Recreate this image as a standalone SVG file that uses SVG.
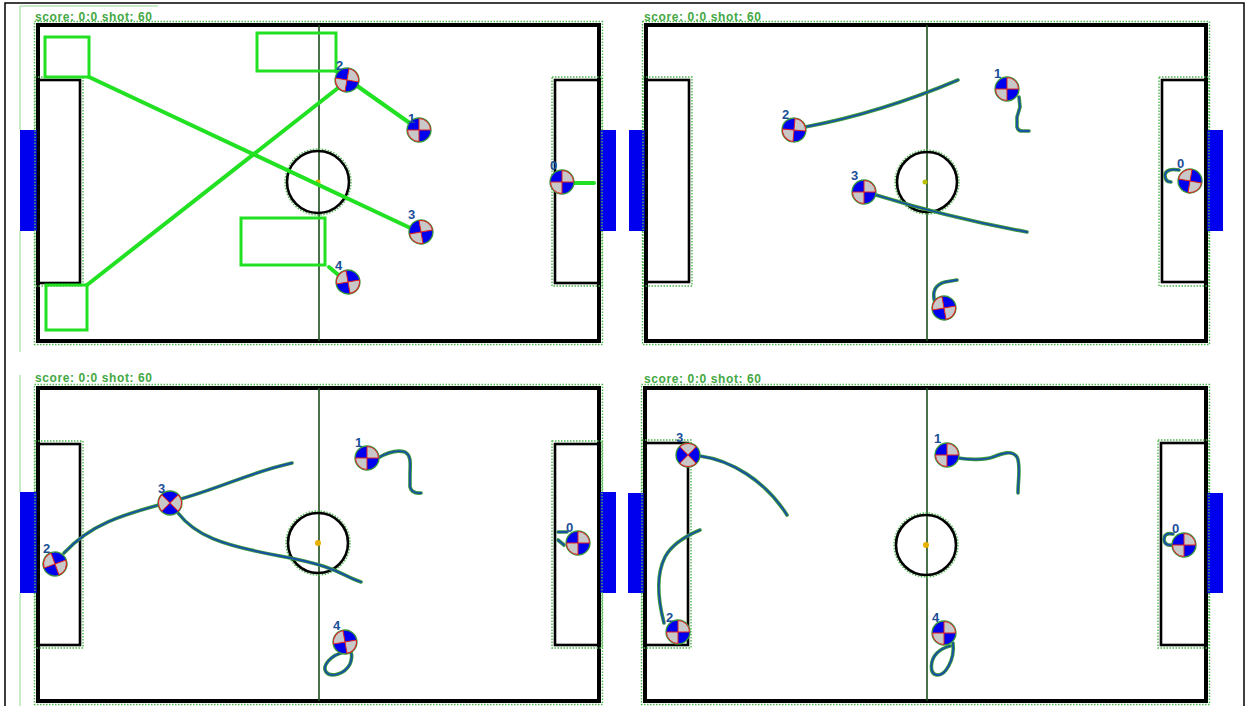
<svg xmlns="http://www.w3.org/2000/svg" xmlns:xlink="http://www.w3.org/1999/xlink" width="1246" height="706" viewBox="0 0 1246 706">
<style>
.field{fill:#fff;stroke:#000;stroke-width:4}
.halo{fill:none;stroke:#4fb84f;stroke-width:1.4;stroke-dasharray:1.5 1.5}
.pbox{fill:none;stroke:#000;stroke-width:2.6}
.mid{stroke:#1d4d1d;stroke-width:1.6}
.circ{fill:none;stroke:#000;stroke-width:2.6}
.goal{fill:#0000ee}
.dot{fill:#e8b000}
.frame{fill:none;stroke:#8fd88f;stroke-width:1}
.score{font-family:"Liberation Sans",Arial,sans-serif;font-size:12px;font-weight:bold;fill:#44a844}
.num{font-family:"Liberation Sans",Arial,sans-serif;font-size:13px;font-weight:bold;fill:#1a4f98}
.gline{stroke:#22e022;stroke-width:4;fill:none;stroke-linecap:round}
.grect{fill:none;stroke:#22e022;stroke-width:3}
.trajo{stroke:#3a9a3a;stroke-width:3.6;fill:none;stroke-linecap:round;stroke-linejoin:round}
.traj{stroke:#1a4fa8;stroke-width:1.8;fill:none;stroke-linecap:round;stroke-linejoin:round}
</style>
<defs>
<g id="bot">
<circle r="12" fill="#0000ee" stroke="#3a9a3a" stroke-width="1.3"/>
<path d="M0,0 H11.5 A11.5,11.5 0 0,0 0,-11.5 Z M0,0 H-11.5 A11.5,11.5 0 0,0 0,11.5 Z" fill="#c8c8c8" stroke="#e02020" stroke-width="1"/>
</g>
</defs>
<rect width="1246" height="706" fill="#fff"/>
<rect x="5" y="3" width="1239" height="720" fill="none" stroke="#000" stroke-width="1.5"/>

<!-- Panel 1 -->
<g id="panel1">
<path class="frame" d="M20,130 V6 H158 M20,231 V352"/>
<text class="score" x="35" y="21" textLength="117">score: 0:0 shot: 60</text>
<rect class="halo" x="34.5" y="21.5" width="568" height="323"/>
<rect class="field" x="38" y="25" width="561" height="316"/>
<rect class="goal" x="20" y="130" width="18" height="101"/>
<rect class="goal" x="599" y="130" width="17" height="101"/>
<rect class="halo" x="35" y="77" width="48" height="209"/>
<rect class="pbox" x="38" y="80" width="42" height="203"/>
<rect class="halo" x="552" y="77" width="50" height="209"/>
<rect class="pbox" x="555" y="80" width="44" height="203"/>
<line class="mid" x1="319" y1="25" x2="319" y2="341"/>
<circle class="halo" cx="318" cy="182" r="33"/>
<circle class="circ" cx="318" cy="182" r="31"/>
<circle class="dot" cx="318" cy="182" r="2.5"/>
</g>
<g id="connectors1">
<rect class="grect" x="45" y="37" width="44" height="40"/>
<rect class="grect" x="257" y="33" width="79" height="38"/>
<rect class="grect" x="241" y="218" width="84" height="47"/>
<rect class="grect" x="46" y="285" width="41" height="45"/>
<path class="gline" d="M89,77 L421,233"/>
<path class="gline" d="M87,285 L352,77"/>
<path class="gline" d="M336,71 L421,131"/>
<path class="gline" d="M329,267 L349,284"/>
<path class="gline" d="M562,183 L594,183"/>
</g>
<g id="p1-players">
<g id="p1-r2"><use xlink:href="#bot" transform="translate(347,80) rotate(10)"/><text class="num" x="336" y="70">2</text></g>
<g id="p1-r1"><use xlink:href="#bot" transform="translate(419,130) rotate(0)"/><text class="num" x="408" y="123">1</text></g>
<g id="p1-r0"><use xlink:href="#bot" transform="translate(562,182) rotate(0)"/><text class="num" x="550" y="170">0</text></g>
<g id="p1-r3"><use xlink:href="#bot" transform="translate(421,232) rotate(-10)"/><text class="num" x="408" y="219">3</text></g>
<g id="p1-r4"><use xlink:href="#bot" transform="translate(348,282) rotate(80)"/><text class="num" x="335" y="270">4</text></g>
</g>

<!-- Panel 2 -->
<g id="panel2">
<text class="score" x="644" y="21" textLength="117">score: 0:0 shot: 60</text>
<rect class="halo" x="642.5" y="21.5" width="567" height="323"/>
<rect class="field" x="646" y="25" width="560" height="316"/>
<rect class="goal" x="629" y="130" width="17" height="101"/>
<rect class="goal" x="1206" y="130" width="17" height="101"/>
<rect class="halo" x="643" y="77" width="49" height="209"/>
<rect class="pbox" x="646" y="80" width="43" height="202"/>
<rect class="halo" x="1159" y="77" width="50" height="209"/>
<rect class="pbox" x="1162" y="80" width="44" height="202"/>
<line class="mid" x1="927" y1="25" x2="927" y2="341"/>
<circle class="halo" cx="927" cy="182" r="32"/>
<circle class="circ" cx="927" cy="182" r="30"/>
<circle cx="925" cy="182" r="2.5" fill="#b8c000"/>
</g>
<g id="connectors2">
<g class="trajo">
<path d="M805,127 Q880,113 958,80"/>
<path d="M1019,97 L1020,107 L1017,117 L1017,127 Q1018,131 1022,131 L1029,131"/>
<path d="M1179,170 Q1166,168 1165,175 Q1165,182 1171,182"/>
<path d="M876,195 Q950,218 1027,232"/>
<path d="M935,303 Q930,286 945,282 L957,280"/>
</g>
<g class="traj">
<path d="M805,127 Q880,113 958,80"/>
<path d="M1019,97 L1020,107 L1017,117 L1017,127 Q1018,131 1022,131 L1029,131"/>
<path d="M1179,170 Q1166,168 1165,175 Q1165,182 1171,182"/>
<path d="M876,195 Q950,218 1027,232"/>
<path d="M935,303 Q930,286 945,282 L957,280"/>
</g>
</g>
<g id="p2-players">
<g id="p2-r2"><use xlink:href="#bot" transform="translate(794,130) rotate(5)"/><text class="num" x="782" y="119">2</text></g>
<g id="p2-r1"><use xlink:href="#bot" transform="translate(1007,89) rotate(0)"/><text class="num" x="994" y="78">1</text></g>
<g id="p2-r0"><use xlink:href="#bot" transform="translate(1190,181) rotate(-80)"/><text class="num" x="1177" y="168">0</text></g>
<g id="p2-r3"><use xlink:href="#bot" transform="translate(864,192) rotate(0)"/><text class="num" x="851" y="180">3</text></g>
<g id="p2-r4"><use xlink:href="#bot" transform="translate(944,308) rotate(80)"/></g>
</g>

<!-- Panel 3 -->
<g id="panel3">
<path class="frame" d="M20,375 V492 M20,593 V706"/>
<text class="score" x="35" y="382" textLength="117">score: 0:0 shot: 60</text>
<rect class="halo" x="34.5" y="384.5" width="568" height="320"/>
<rect class="field" x="38" y="388" width="561" height="313"/>
<rect class="goal" x="20" y="492" width="18" height="101"/>
<rect class="goal" x="599" y="492" width="17" height="101"/>
<rect class="halo" x="35" y="441" width="48" height="207"/>
<rect class="pbox" x="38" y="444" width="42" height="201"/>
<rect class="halo" x="552" y="441" width="50" height="207"/>
<rect class="pbox" x="555" y="444" width="44" height="201"/>
<line class="mid" x1="319" y1="388" x2="319" y2="701"/>
<circle class="halo" cx="318" cy="543" r="32"/>
<circle class="circ" cx="318" cy="543" r="30"/>
<circle class="dot" cx="318" cy="543" r="3"/>
</g>
<g id="connectors3">
<g class="trajo">
<path d="M64,553 C90,525 120,515 170,502 S250,472 292,463"/>
<path d="M178,513 C195,535 220,545 280,556 S340,575 361,582"/>
<path d="M378,458 C388,452 398,450 405,452 C412,456 410,465 410,475 L410,487 Q412,494 421,493"/>
<path d="M567,532 L558,532 M558,540 L564,545"/>
<path d="M345,652 C330,655 322,666 326,672 C331,678 345,674 350,664 C352,659 352,655 351,652"/>
</g>
<g class="traj">
<path d="M64,553 C90,525 120,515 170,502 S250,472 292,463"/>
<path d="M178,513 C195,535 220,545 280,556 S340,575 361,582"/>
<path d="M378,458 C388,452 398,450 405,452 C412,456 410,465 410,475 L410,487 Q412,494 421,493"/>
<path d="M567,532 L558,532 M558,540 L564,545"/>
<path d="M345,652 C330,655 322,666 326,672 C331,678 345,674 350,664 C352,659 352,655 351,652"/>
</g>
</g>
<g id="p3-players">
<g id="p3-r2"><use xlink:href="#bot" transform="translate(55,564) rotate(70)"/><text class="num" x="43" y="553">2</text></g>
<g id="p3-r3"><use xlink:href="#bot" transform="translate(170,503) rotate(45)"/><text class="num" x="158" y="493">3</text></g>
<g id="p3-r1"><use xlink:href="#bot" transform="translate(367,458) rotate(0)"/><text class="num" x="355" y="447">1</text></g>
<g id="p3-r0"><use xlink:href="#bot" transform="translate(578,543) rotate(0)"/><text class="num" x="566" y="532">0</text></g>
<g id="p3-r4"><use xlink:href="#bot" transform="translate(345,642) rotate(80)"/><text class="num" x="333" y="630">4</text></g>
</g>

<!-- Panel 4 -->
<g id="panel4">
<text class="score" x="644" y="383" textLength="117">score: 0:0 shot: 60</text>
<rect class="halo" x="641.5" y="384.5" width="568" height="320"/>
<rect class="field" x="645" y="388" width="561" height="313"/>
<rect class="goal" x="628" y="493" width="17" height="100"/>
<rect class="goal" x="1206" y="493" width="17" height="100"/>
<rect class="halo" x="642" y="440" width="49" height="208"/>
<rect class="pbox" x="645" y="443" width="43" height="202"/>
<rect class="halo" x="1158" y="440" width="51" height="208"/>
<rect class="pbox" x="1161" y="443" width="45" height="202"/>
<line class="mid" x1="927" y1="388" x2="927" y2="701"/>
<circle class="halo" cx="926" cy="545" r="32"/>
<circle class="circ" cx="926" cy="545" r="30"/>
<circle class="dot" cx="926" cy="545" r="3"/>
</g>
<g id="connectors4">
<g class="trajo">
<path d="M700,456 C730,460 765,480 787,515"/>
<path d="M664,623 C658,600 656,575 665,557 C672,544 688,535 700,530"/>
<path d="M958,458 C970,460 985,460 993,457 C1003,453 1012,450 1017,457 C1021,465 1018,480 1018,493"/>
<path d="M1173,534 Q1164,532 1164,540 Q1165,546 1172,545"/>
<path d="M953,643 C955,660 945,676 937,675 C929,674 930,660 937,653 C941,649 946,647 950,646"/>
</g>
<g class="traj">
<path d="M700,456 C730,460 765,480 787,515"/>
<path d="M664,623 C658,600 656,575 665,557 C672,544 688,535 700,530"/>
<path d="M958,458 C970,460 985,460 993,457 C1003,453 1012,450 1017,457 C1021,465 1018,480 1018,493"/>
<path d="M1173,534 Q1164,532 1164,540 Q1165,546 1172,545"/>
<path d="M953,643 C955,660 945,676 937,675 C929,674 930,660 937,653 C941,649 946,647 950,646"/>
</g>
</g>
<g id="p4-players">
<g id="p4-r3"><use xlink:href="#bot" transform="translate(688,455) rotate(-45)"/><text class="num" x="676" y="442">3</text></g>
<g id="p4-r1"><use xlink:href="#bot" transform="translate(947,455) rotate(0)"/><text class="num" x="934" y="443">1</text></g>
<g id="p4-r0"><use xlink:href="#bot" transform="translate(1184,545) rotate(0)"/><text class="num" x="1172" y="533">0</text></g>
<g id="p4-r2"><use xlink:href="#bot" transform="translate(678,632) rotate(0)"/><text class="num" x="666" y="622">2</text></g>
<g id="p4-r4"><use xlink:href="#bot" transform="translate(944,633) rotate(0)"/><text class="num" x="932" y="622">4</text></g>
</g>
</svg>
